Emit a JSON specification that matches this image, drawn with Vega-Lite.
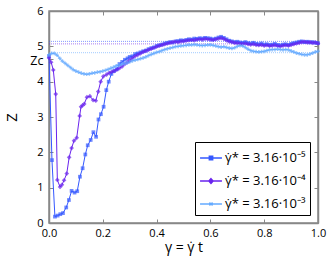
{
  "$schema": "https://vega.github.io/schema/vega-lite/v6.json",
  "autosize": "none",
  "width": 269,
  "height": 212,
  "padding": {"left": 49, "top": 11, "right": 14, "bottom": 34},
  "config": {
    "font": "Open Sans",
    "view": {"stroke": "#888888", "strokeWidth": 1.5},
    "axis": {"grid": false, "labelFont": "Open Sans", "labelFontSize": 11, "labelColor": "#000", "titleColor": "#000", "tickColor": "#888888", "domainColor": "#888888", "domainWidth": 1.5, "tickSize": -4, "tickWidth": 1, "labelFlush": false}
  },
  "datasets": {
    "series": [
      {"s": "γ̇* = 3.16·10⁻⁵", "x": 0.0, "z": 4.72},
      {"s": "γ̇* = 3.16·10⁻⁵", "x": 0.011, "z": 1.78},
      {"s": "γ̇* = 3.16·10⁻⁵", "x": 0.022, "z": 0.18},
      {"s": "γ̇* = 3.16·10⁻⁵", "x": 0.032, "z": 0.21},
      {"s": "γ̇* = 3.16·10⁻⁵", "x": 0.042, "z": 0.25},
      {"s": "γ̇* = 3.16·10⁻⁵", "x": 0.052, "z": 0.28},
      {"s": "γ̇* = 3.16·10⁻⁵", "x": 0.064, "z": 0.44},
      {"s": "γ̇* = 3.16·10⁻⁵", "x": 0.074, "z": 0.65},
      {"s": "γ̇* = 3.16·10⁻⁵", "x": 0.084, "z": 0.91},
      {"s": "γ̇* = 3.16·10⁻⁵", "x": 0.095, "z": 0.86},
      {"s": "γ̇* = 3.16·10⁻⁵", "x": 0.105, "z": 0.9},
      {"s": "γ̇* = 3.16·10⁻⁵", "x": 0.115, "z": 1.31},
      {"s": "γ̇* = 3.16·10⁻⁵", "x": 0.125, "z": 1.55},
      {"s": "γ̇* = 3.16·10⁻⁵", "x": 0.135, "z": 1.94},
      {"s": "γ̇* = 3.16·10⁻⁵", "x": 0.144, "z": 2.2},
      {"s": "γ̇* = 3.16·10⁻⁵", "x": 0.155, "z": 2.35},
      {"s": "γ̇* = 3.16·10⁻⁵", "x": 0.165, "z": 2.57},
      {"s": "γ̇* = 3.16·10⁻⁵", "x": 0.175, "z": 2.44},
      {"s": "γ̇* = 3.16·10⁻⁵", "x": 0.184, "z": 2.93},
      {"s": "γ̇* = 3.16·10⁻⁵", "x": 0.193, "z": 3.08},
      {"s": "γ̇* = 3.16·10⁻⁵", "x": 0.203, "z": 3.29},
      {"s": "γ̇* = 3.16·10⁻⁵", "x": 0.213, "z": 3.76},
      {"s": "γ̇* = 3.16·10⁻⁵", "x": 0.222, "z": 4.0},
      {"s": "γ̇* = 3.16·10⁻⁵", "x": 0.232, "z": 4.22},
      {"s": "γ̇* = 3.16·10⁻⁵", "x": 0.242, "z": 4.3},
      {"s": "γ̇* = 3.16·10⁻⁵", "x": 0.252, "z": 4.35},
      {"s": "γ̇* = 3.16·10⁻⁵", "x": 0.262, "z": 4.5},
      {"s": "γ̇* = 3.16·10⁻⁵", "x": 0.272, "z": 4.56},
      {"s": "γ̇* = 3.16·10⁻⁵", "x": 0.282, "z": 4.62},
      {"s": "γ̇* = 3.16·10⁻⁵", "x": 0.292, "z": 4.66},
      {"s": "γ̇* = 3.16·10⁻⁵", "x": 0.30, "z": 4.7},
      {"s": "γ̇* = 3.16·10⁻⁵", "x": 0.31, "z": 4.72},
      {"s": "γ̇* = 3.16·10⁻⁵", "x": 0.32, "z": 4.78},
      {"s": "γ̇* = 3.16·10⁻⁵", "x": 0.33, "z": 4.8},
      {"s": "γ̇* = 3.16·10⁻⁵", "x": 0.34, "z": 4.83},
      {"s": "γ̇* = 3.16·10⁻⁵", "x": 0.35, "z": 4.86},
      {"s": "γ̇* = 3.16·10⁻⁵", "x": 0.36, "z": 4.88},
      {"s": "γ̇* = 3.16·10⁻⁵", "x": 0.37, "z": 4.92},
      {"s": "γ̇* = 3.16·10⁻⁵", "x": 0.38, "z": 4.95},
      {"s": "γ̇* = 3.16·10⁻⁵", "x": 0.39, "z": 4.97},
      {"s": "γ̇* = 3.16·10⁻⁵", "x": 0.40, "z": 5.01},
      {"s": "γ̇* = 3.16·10⁻⁵", "x": 0.41, "z": 5.03},
      {"s": "γ̇* = 3.16·10⁻⁵", "x": 0.42, "z": 5.05},
      {"s": "γ̇* = 3.16·10⁻⁵", "x": 0.43, "z": 5.08},
      {"s": "γ̇* = 3.16·10⁻⁵", "x": 0.44, "z": 5.1},
      {"s": "γ̇* = 3.16·10⁻⁵", "x": 0.45, "z": 5.12},
      {"s": "γ̇* = 3.16·10⁻⁵", "x": 0.46, "z": 5.11},
      {"s": "γ̇* = 3.16·10⁻⁵", "x": 0.47, "z": 5.14},
      {"s": "γ̇* = 3.16·10⁻⁵", "x": 0.48, "z": 5.15},
      {"s": "γ̇* = 3.16·10⁻⁵", "x": 0.49, "z": 5.17},
      {"s": "γ̇* = 3.16·10⁻⁵", "x": 0.50, "z": 5.16},
      {"s": "γ̇* = 3.16·10⁻⁵", "x": 0.51, "z": 5.18},
      {"s": "γ̇* = 3.16·10⁻⁵", "x": 0.52, "z": 5.2},
      {"s": "γ̇* = 3.16·10⁻⁵", "x": 0.53, "z": 5.19},
      {"s": "γ̇* = 3.16·10⁻⁵", "x": 0.54, "z": 5.22},
      {"s": "γ̇* = 3.16·10⁻⁵", "x": 0.55, "z": 5.21},
      {"s": "γ̇* = 3.16·10⁻⁵", "x": 0.56, "z": 5.23},
      {"s": "γ̇* = 3.16·10⁻⁵", "x": 0.57, "z": 5.22},
      {"s": "γ̇* = 3.16·10⁻⁵", "x": 0.58, "z": 5.24},
      {"s": "γ̇* = 3.16·10⁻⁵", "x": 0.59, "z": 5.23},
      {"s": "γ̇* = 3.16·10⁻⁵", "x": 0.60, "z": 5.22},
      {"s": "γ̇* = 3.16·10⁻⁵", "x": 0.61, "z": 5.2},
      {"s": "γ̇* = 3.16·10⁻⁵", "x": 0.62, "z": 5.22},
      {"s": "γ̇* = 3.16·10⁻⁵", "x": 0.63, "z": 5.25},
      {"s": "γ̇* = 3.16·10⁻⁵", "x": 0.64, "z": 5.27},
      {"s": "γ̇* = 3.16·10⁻⁵", "x": 0.65, "z": 5.24},
      {"s": "γ̇* = 3.16·10⁻⁵", "x": 0.66, "z": 5.2},
      {"s": "γ̇* = 3.16·10⁻⁵", "x": 0.67, "z": 5.16},
      {"s": "γ̇* = 3.16·10⁻⁵", "x": 0.68, "z": 5.14},
      {"s": "γ̇* = 3.16·10⁻⁵", "x": 0.69, "z": 5.12},
      {"s": "γ̇* = 3.16·10⁻⁵", "x": 0.70, "z": 5.13},
      {"s": "γ̇* = 3.16·10⁻⁵", "x": 0.71, "z": 5.11},
      {"s": "γ̇* = 3.16·10⁻⁵", "x": 0.72, "z": 5.1},
      {"s": "γ̇* = 3.16·10⁻⁵", "x": 0.73, "z": 5.12},
      {"s": "γ̇* = 3.16·10⁻⁵", "x": 0.74, "z": 5.09},
      {"s": "γ̇* = 3.16·10⁻⁵", "x": 0.75, "z": 5.08},
      {"s": "γ̇* = 3.16·10⁻⁵", "x": 0.76, "z": 5.1},
      {"s": "γ̇* = 3.16·10⁻⁵", "x": 0.77, "z": 5.07},
      {"s": "γ̇* = 3.16·10⁻⁵", "x": 0.78, "z": 5.06},
      {"s": "γ̇* = 3.16·10⁻⁵", "x": 0.79, "z": 5.08},
      {"s": "γ̇* = 3.16·10⁻⁵", "x": 0.80, "z": 5.05},
      {"s": "γ̇* = 3.16·10⁻⁵", "x": 0.81, "z": 5.06},
      {"s": "γ̇* = 3.16·10⁻⁵", "x": 0.82, "z": 5.04},
      {"s": "γ̇* = 3.16·10⁻⁵", "x": 0.83, "z": 5.05},
      {"s": "γ̇* = 3.16·10⁻⁵", "x": 0.84, "z": 5.07},
      {"s": "γ̇* = 3.16·10⁻⁵", "x": 0.85, "z": 5.04},
      {"s": "γ̇* = 3.16·10⁻⁵", "x": 0.86, "z": 5.03},
      {"s": "γ̇* = 3.16·10⁻⁵", "x": 0.87, "z": 5.05},
      {"s": "γ̇* = 3.16·10⁻⁵", "x": 0.88, "z": 5.06},
      {"s": "γ̇* = 3.16·10⁻⁵", "x": 0.89, "z": 5.04},
      {"s": "γ̇* = 3.16·10⁻⁵", "x": 0.90, "z": 5.07},
      {"s": "γ̇* = 3.16·10⁻⁵", "x": 0.91, "z": 5.09},
      {"s": "γ̇* = 3.16·10⁻⁵", "x": 0.92, "z": 5.11},
      {"s": "γ̇* = 3.16·10⁻⁵", "x": 0.93, "z": 5.13},
      {"s": "γ̇* = 3.16·10⁻⁵", "x": 0.94, "z": 5.14},
      {"s": "γ̇* = 3.16·10⁻⁵", "x": 0.95, "z": 5.12},
      {"s": "γ̇* = 3.16·10⁻⁵", "x": 0.96, "z": 5.13},
      {"s": "γ̇* = 3.16·10⁻⁵", "x": 0.97, "z": 5.11},
      {"s": "γ̇* = 3.16·10⁻⁵", "x": 0.98, "z": 5.12},
      {"s": "γ̇* = 3.16·10⁻⁵", "x": 0.99, "z": 5.1},
      {"s": "γ̇* = 3.16·10⁻⁵", "x": 1.0, "z": 5.09},

      {"s": "γ̇* = 3.16·10⁻⁴", "x": 0.0, "z": 4.67},
      {"s": "γ̇* = 3.16·10⁻⁴", "x": 0.008, "z": 4.55},
      {"s": "γ̇* = 3.16·10⁻⁴", "x": 0.016, "z": 4.33},
      {"s": "γ̇* = 3.16·10⁻⁴", "x": 0.025, "z": 3.65},
      {"s": "γ̇* = 3.16·10⁻⁴", "x": 0.031, "z": 1.22},
      {"s": "γ̇* = 3.16·10⁻⁴", "x": 0.041, "z": 1.02},
      {"s": "γ̇* = 3.16·10⁻⁴", "x": 0.048, "z": 1.08},
      {"s": "γ̇* = 3.16·10⁻⁴", "x": 0.056, "z": 1.21},
      {"s": "γ̇* = 3.16·10⁻⁴", "x": 0.066, "z": 1.4},
      {"s": "γ̇* = 3.16·10⁻⁴", "x": 0.075, "z": 1.86},
      {"s": "γ̇* = 3.16·10⁻⁴", "x": 0.084, "z": 2.12},
      {"s": "γ̇* = 3.16·10⁻⁴", "x": 0.093, "z": 2.33},
      {"s": "γ̇* = 3.16·10⁻⁴", "x": 0.103, "z": 2.41},
      {"s": "γ̇* = 3.16·10⁻⁴", "x": 0.114, "z": 3.03},
      {"s": "γ̇* = 3.16·10⁻⁴", "x": 0.119, "z": 3.29},
      {"s": "γ̇* = 3.16·10⁻⁴", "x": 0.125, "z": 3.33},
      {"s": "γ̇* = 3.16·10⁻⁴", "x": 0.131, "z": 3.37},
      {"s": "γ̇* = 3.16·10⁻⁴", "x": 0.141, "z": 3.56},
      {"s": "γ̇* = 3.16·10⁻⁴", "x": 0.152, "z": 3.59},
      {"s": "γ̇* = 3.16·10⁻⁴", "x": 0.164, "z": 3.48},
      {"s": "γ̇* = 3.16·10⁻⁴", "x": 0.174, "z": 3.46},
      {"s": "γ̇* = 3.16·10⁻⁴", "x": 0.183, "z": 3.72},
      {"s": "γ̇* = 3.16·10⁻⁴", "x": 0.192, "z": 4.0},
      {"s": "γ̇* = 3.16·10⁻⁴", "x": 0.202, "z": 4.15},
      {"s": "γ̇* = 3.16·10⁻⁴", "x": 0.214, "z": 4.2},
      {"s": "γ̇* = 3.16·10⁻⁴", "x": 0.224, "z": 4.25},
      {"s": "γ̇* = 3.16·10⁻⁴", "x": 0.233, "z": 4.28},
      {"s": "γ̇* = 3.16·10⁻⁴", "x": 0.242, "z": 4.3},
      {"s": "γ̇* = 3.16·10⁻⁴", "x": 0.252, "z": 4.34},
      {"s": "γ̇* = 3.16·10⁻⁴", "x": 0.262, "z": 4.38},
      {"s": "γ̇* = 3.16·10⁻⁴", "x": 0.272, "z": 4.43},
      {"s": "γ̇* = 3.16·10⁻⁴", "x": 0.282, "z": 4.5},
      {"s": "γ̇* = 3.16·10⁻⁴", "x": 0.292, "z": 4.55},
      {"s": "γ̇* = 3.16·10⁻⁴", "x": 0.30, "z": 4.6},
      {"s": "γ̇* = 3.16·10⁻⁴", "x": 0.31, "z": 4.66},
      {"s": "γ̇* = 3.16·10⁻⁴", "x": 0.32, "z": 4.72},
      {"s": "γ̇* = 3.16·10⁻⁴", "x": 0.33, "z": 4.76},
      {"s": "γ̇* = 3.16·10⁻⁴", "x": 0.34, "z": 4.8},
      {"s": "γ̇* = 3.16·10⁻⁴", "x": 0.35, "z": 4.84},
      {"s": "γ̇* = 3.16·10⁻⁴", "x": 0.36, "z": 4.87},
      {"s": "γ̇* = 3.16·10⁻⁴", "x": 0.37, "z": 4.9},
      {"s": "γ̇* = 3.16·10⁻⁴", "x": 0.38, "z": 4.93},
      {"s": "γ̇* = 3.16·10⁻⁴", "x": 0.39, "z": 4.96},
      {"s": "γ̇* = 3.16·10⁻⁴", "x": 0.40, "z": 4.99},
      {"s": "γ̇* = 3.16·10⁻⁴", "x": 0.41, "z": 5.02},
      {"s": "γ̇* = 3.16·10⁻⁴", "x": 0.42, "z": 5.04},
      {"s": "γ̇* = 3.16·10⁻⁴", "x": 0.43, "z": 5.06},
      {"s": "γ̇* = 3.16·10⁻⁴", "x": 0.44, "z": 5.08},
      {"s": "γ̇* = 3.16·10⁻⁴", "x": 0.45, "z": 5.1},
      {"s": "γ̇* = 3.16·10⁻⁴", "x": 0.46, "z": 5.12},
      {"s": "γ̇* = 3.16·10⁻⁴", "x": 0.47, "z": 5.13},
      {"s": "γ̇* = 3.16·10⁻⁴", "x": 0.48, "z": 5.12},
      {"s": "γ̇* = 3.16·10⁻⁴", "x": 0.49, "z": 5.14},
      {"s": "γ̇* = 3.16·10⁻⁴", "x": 0.50, "z": 5.15},
      {"s": "γ̇* = 3.16·10⁻⁴", "x": 0.51, "z": 5.16},
      {"s": "γ̇* = 3.16·10⁻⁴", "x": 0.52, "z": 5.17},
      {"s": "γ̇* = 3.16·10⁻⁴", "x": 0.53, "z": 5.18},
      {"s": "γ̇* = 3.16·10⁻⁴", "x": 0.54, "z": 5.17},
      {"s": "γ̇* = 3.16·10⁻⁴", "x": 0.55, "z": 5.19},
      {"s": "γ̇* = 3.16·10⁻⁴", "x": 0.56, "z": 5.2},
      {"s": "γ̇* = 3.16·10⁻⁴", "x": 0.57, "z": 5.19},
      {"s": "γ̇* = 3.16·10⁻⁴", "x": 0.58, "z": 5.21},
      {"s": "γ̇* = 3.16·10⁻⁴", "x": 0.59, "z": 5.2},
      {"s": "γ̇* = 3.16·10⁻⁴", "x": 0.60, "z": 5.19},
      {"s": "γ̇* = 3.16·10⁻⁴", "x": 0.61, "z": 5.18},
      {"s": "γ̇* = 3.16·10⁻⁴", "x": 0.62, "z": 5.2},
      {"s": "γ̇* = 3.16·10⁻⁴", "x": 0.63, "z": 5.22},
      {"s": "γ̇* = 3.16·10⁻⁴", "x": 0.64, "z": 5.23},
      {"s": "γ̇* = 3.16·10⁻⁴", "x": 0.65, "z": 5.21},
      {"s": "γ̇* = 3.16·10⁻⁴", "x": 0.66, "z": 5.17},
      {"s": "γ̇* = 3.16·10⁻⁴", "x": 0.67, "z": 5.14},
      {"s": "γ̇* = 3.16·10⁻⁴", "x": 0.68, "z": 5.12},
      {"s": "γ̇* = 3.16·10⁻⁴", "x": 0.69, "z": 5.1},
      {"s": "γ̇* = 3.16·10⁻⁴", "x": 0.70, "z": 5.09},
      {"s": "γ̇* = 3.16·10⁻⁴", "x": 0.71, "z": 5.08},
      {"s": "γ̇* = 3.16·10⁻⁴", "x": 0.72, "z": 5.07},
      {"s": "γ̇* = 3.16·10⁻⁴", "x": 0.73, "z": 5.08},
      {"s": "γ̇* = 3.16·10⁻⁴", "x": 0.74, "z": 5.06},
      {"s": "γ̇* = 3.16·10⁻⁴", "x": 0.75, "z": 5.05},
      {"s": "γ̇* = 3.16·10⁻⁴", "x": 0.76, "z": 5.06},
      {"s": "γ̇* = 3.16·10⁻⁴", "x": 0.77, "z": 5.04},
      {"s": "γ̇* = 3.16·10⁻⁴", "x": 0.78, "z": 5.03},
      {"s": "γ̇* = 3.16·10⁻⁴", "x": 0.79, "z": 5.04},
      {"s": "γ̇* = 3.16·10⁻⁴", "x": 0.80, "z": 5.02},
      {"s": "γ̇* = 3.16·10⁻⁴", "x": 0.81, "z": 5.03},
      {"s": "γ̇* = 3.16·10⁻⁴", "x": 0.82, "z": 5.01},
      {"s": "γ̇* = 3.16·10⁻⁴", "x": 0.83, "z": 5.02},
      {"s": "γ̇* = 3.16·10⁻⁴", "x": 0.84, "z": 5.03},
      {"s": "γ̇* = 3.16·10⁻⁴", "x": 0.85, "z": 5.01},
      {"s": "γ̇* = 3.16·10⁻⁴", "x": 0.86, "z": 5.0},
      {"s": "γ̇* = 3.16·10⁻⁴", "x": 0.87, "z": 5.02},
      {"s": "γ̇* = 3.16·10⁻⁴", "x": 0.88, "z": 5.03},
      {"s": "γ̇* = 3.16·10⁻⁴", "x": 0.89, "z": 5.02},
      {"s": "γ̇* = 3.16·10⁻⁴", "x": 0.90, "z": 5.04},
      {"s": "γ̇* = 3.16·10⁻⁴", "x": 0.91, "z": 5.06},
      {"s": "γ̇* = 3.16·10⁻⁴", "x": 0.92, "z": 5.08},
      {"s": "γ̇* = 3.16·10⁻⁴", "x": 0.93, "z": 5.1},
      {"s": "γ̇* = 3.16·10⁻⁴", "x": 0.94, "z": 5.12},
      {"s": "γ̇* = 3.16·10⁻⁴", "x": 0.95, "z": 5.13},
      {"s": "γ̇* = 3.16·10⁻⁴", "x": 0.96, "z": 5.11},
      {"s": "γ̇* = 3.16·10⁻⁴", "x": 0.97, "z": 5.12},
      {"s": "γ̇* = 3.16·10⁻⁴", "x": 0.98, "z": 5.1},
      {"s": "γ̇* = 3.16·10⁻⁴", "x": 0.99, "z": 5.11},
      {"s": "γ̇* = 3.16·10⁻⁴", "x": 1.0, "z": 5.08},

      {"s": "γ̇* = 3.16·10⁻³", "x": 0.0, "z": 4.76},
      {"s": "γ̇* = 3.16·10⁻³", "x": 0.01, "z": 4.8},
      {"s": "γ̇* = 3.16·10⁻³", "x": 0.02, "z": 4.8},
      {"s": "γ̇* = 3.16·10⁻³", "x": 0.03, "z": 4.75},
      {"s": "γ̇* = 3.16·10⁻³", "x": 0.04, "z": 4.66},
      {"s": "γ̇* = 3.16·10⁻³", "x": 0.05, "z": 4.58},
      {"s": "γ̇* = 3.16·10⁻³", "x": 0.06, "z": 4.52},
      {"s": "γ̇* = 3.16·10⁻³", "x": 0.07, "z": 4.46},
      {"s": "γ̇* = 3.16·10⁻³", "x": 0.08, "z": 4.4},
      {"s": "γ̇* = 3.16·10⁻³", "x": 0.09, "z": 4.34},
      {"s": "γ̇* = 3.16·10⁻³", "x": 0.10, "z": 4.3},
      {"s": "γ̇* = 3.16·10⁻³", "x": 0.11, "z": 4.27},
      {"s": "γ̇* = 3.16·10⁻³", "x": 0.12, "z": 4.24},
      {"s": "γ̇* = 3.16·10⁻³", "x": 0.13, "z": 4.22},
      {"s": "γ̇* = 3.16·10⁻³", "x": 0.14, "z": 4.21},
      {"s": "γ̇* = 3.16·10⁻³", "x": 0.15, "z": 4.22},
      {"s": "γ̇* = 3.16·10⁻³", "x": 0.16, "z": 4.24},
      {"s": "γ̇* = 3.16·10⁻³", "x": 0.17, "z": 4.25},
      {"s": "γ̇* = 3.16·10⁻³", "x": 0.18, "z": 4.27},
      {"s": "γ̇* = 3.16·10⁻³", "x": 0.19, "z": 4.28},
      {"s": "γ̇* = 3.16·10⁻³", "x": 0.20, "z": 4.3},
      {"s": "γ̇* = 3.16·10⁻³", "x": 0.21, "z": 4.32},
      {"s": "γ̇* = 3.16·10⁻³", "x": 0.22, "z": 4.35},
      {"s": "γ̇* = 3.16·10⁻³", "x": 0.23, "z": 4.38},
      {"s": "γ̇* = 3.16·10⁻³", "x": 0.24, "z": 4.41},
      {"s": "γ̇* = 3.16·10⁻³", "x": 0.25, "z": 4.45},
      {"s": "γ̇* = 3.16·10⁻³", "x": 0.26, "z": 4.47},
      {"s": "γ̇* = 3.16·10⁻³", "x": 0.27, "z": 4.49},
      {"s": "γ̇* = 3.16·10⁻³", "x": 0.28, "z": 4.51},
      {"s": "γ̇* = 3.16·10⁻³", "x": 0.29, "z": 4.53},
      {"s": "γ̇* = 3.16·10⁻³", "x": 0.30, "z": 4.56},
      {"s": "γ̇* = 3.16·10⁻³", "x": 0.31, "z": 4.59},
      {"s": "γ̇* = 3.16·10⁻³", "x": 0.32, "z": 4.61},
      {"s": "γ̇* = 3.16·10⁻³", "x": 0.33, "z": 4.63},
      {"s": "γ̇* = 3.16·10⁻³", "x": 0.34, "z": 4.65},
      {"s": "γ̇* = 3.16·10⁻³", "x": 0.35, "z": 4.67},
      {"s": "γ̇* = 3.16·10⁻³", "x": 0.36, "z": 4.7},
      {"s": "γ̇* = 3.16·10⁻³", "x": 0.37, "z": 4.74},
      {"s": "γ̇* = 3.16·10⁻³", "x": 0.38, "z": 4.77},
      {"s": "γ̇* = 3.16·10⁻³", "x": 0.39, "z": 4.8},
      {"s": "γ̇* = 3.16·10⁻³", "x": 0.40, "z": 4.83},
      {"s": "γ̇* = 3.16·10⁻³", "x": 0.41, "z": 4.85},
      {"s": "γ̇* = 3.16·10⁻³", "x": 0.42, "z": 4.88},
      {"s": "γ̇* = 3.16·10⁻³", "x": 0.43, "z": 4.91},
      {"s": "γ̇* = 3.16·10⁻³", "x": 0.44, "z": 4.93},
      {"s": "γ̇* = 3.16·10⁻³", "x": 0.45, "z": 4.95},
      {"s": "γ̇* = 3.16·10⁻³", "x": 0.46, "z": 4.97},
      {"s": "γ̇* = 3.16·10⁻³", "x": 0.47, "z": 4.99},
      {"s": "γ̇* = 3.16·10⁻³", "x": 0.48, "z": 5.0},
      {"s": "γ̇* = 3.16·10⁻³", "x": 0.49, "z": 5.01},
      {"s": "γ̇* = 3.16·10⁻³", "x": 0.50, "z": 5.02},
      {"s": "γ̇* = 3.16·10⁻³", "x": 0.51, "z": 5.03},
      {"s": "γ̇* = 3.16·10⁻³", "x": 0.52, "z": 5.04},
      {"s": "γ̇* = 3.16·10⁻³", "x": 0.53, "z": 5.04},
      {"s": "γ̇* = 3.16·10⁻³", "x": 0.54, "z": 5.05},
      {"s": "γ̇* = 3.16·10⁻³", "x": 0.55, "z": 5.04},
      {"s": "γ̇* = 3.16·10⁻³", "x": 0.56, "z": 5.03},
      {"s": "γ̇* = 3.16·10⁻³", "x": 0.57, "z": 5.02},
      {"s": "γ̇* = 3.16·10⁻³", "x": 0.58, "z": 5.03},
      {"s": "γ̇* = 3.16·10⁻³", "x": 0.59, "z": 5.04},
      {"s": "γ̇* = 3.16·10⁻³", "x": 0.60, "z": 5.04},
      {"s": "γ̇* = 3.16·10⁻³", "x": 0.61, "z": 5.03},
      {"s": "γ̇* = 3.16·10⁻³", "x": 0.62, "z": 5.01},
      {"s": "γ̇* = 3.16·10⁻³", "x": 0.63, "z": 4.99},
      {"s": "γ̇* = 3.16·10⁻³", "x": 0.64, "z": 4.98},
      {"s": "γ̇* = 3.16·10⁻³", "x": 0.65, "z": 4.99},
      {"s": "γ̇* = 3.16·10⁻³", "x": 0.66, "z": 4.97},
      {"s": "γ̇* = 3.16·10⁻³", "x": 0.67, "z": 4.95},
      {"s": "γ̇* = 3.16·10⁻³", "x": 0.68, "z": 4.94},
      {"s": "γ̇* = 3.16·10⁻³", "x": 0.69, "z": 4.96},
      {"s": "γ̇* = 3.16·10⁻³", "x": 0.70, "z": 5.0},
      {"s": "γ̇* = 3.16·10⁻³", "x": 0.71, "z": 5.02},
      {"s": "γ̇* = 3.16·10⁻³", "x": 0.72, "z": 5.01},
      {"s": "γ̇* = 3.16·10⁻³", "x": 0.73, "z": 4.97},
      {"s": "γ̇* = 3.16·10⁻³", "x": 0.74, "z": 4.92},
      {"s": "γ̇* = 3.16·10⁻³", "x": 0.75, "z": 4.88},
      {"s": "γ̇* = 3.16·10⁻³", "x": 0.76, "z": 4.86},
      {"s": "γ̇* = 3.16·10⁻³", "x": 0.77, "z": 4.85},
      {"s": "γ̇* = 3.16·10⁻³", "x": 0.78, "z": 4.84},
      {"s": "γ̇* = 3.16·10⁻³", "x": 0.79, "z": 4.85},
      {"s": "γ̇* = 3.16·10⁻³", "x": 0.80, "z": 4.86},
      {"s": "γ̇* = 3.16·10⁻³", "x": 0.81, "z": 4.88},
      {"s": "γ̇* = 3.16·10⁻³", "x": 0.82, "z": 4.9},
      {"s": "γ̇* = 3.16·10⁻³", "x": 0.83, "z": 4.91},
      {"s": "γ̇* = 3.16·10⁻³", "x": 0.84, "z": 4.91},
      {"s": "γ̇* = 3.16·10⁻³", "x": 0.85, "z": 4.92},
      {"s": "γ̇* = 3.16·10⁻³", "x": 0.86, "z": 4.91},
      {"s": "γ̇* = 3.16·10⁻³", "x": 0.87, "z": 4.9},
      {"s": "γ̇* = 3.16·10⁻³", "x": 0.88, "z": 4.91},
      {"s": "γ̇* = 3.16·10⁻³", "x": 0.89, "z": 4.9},
      {"s": "γ̇* = 3.16·10⁻³", "x": 0.90, "z": 4.87},
      {"s": "γ̇* = 3.16·10⁻³", "x": 0.91, "z": 4.84},
      {"s": "γ̇* = 3.16·10⁻³", "x": 0.92, "z": 4.81},
      {"s": "γ̇* = 3.16·10⁻³", "x": 0.93, "z": 4.79},
      {"s": "γ̇* = 3.16·10⁻³", "x": 0.94, "z": 4.77},
      {"s": "γ̇* = 3.16·10⁻³", "x": 0.95, "z": 4.76},
      {"s": "γ̇* = 3.16·10⁻³", "x": 0.96, "z": 4.76},
      {"s": "γ̇* = 3.16·10⁻³", "x": 0.97, "z": 4.78},
      {"s": "γ̇* = 3.16·10⁻³", "x": 0.98, "z": 4.81},
      {"s": "γ̇* = 3.16·10⁻³", "x": 0.99, "z": 4.84},
      {"s": "γ̇* = 3.16·10⁻³", "x": 1.0, "z": 4.86}
    ],
    "means": [
      {"s": "γ̇* = 3.16·10⁻⁵", "z": 5.14},
      {"s": "γ̇* = 3.16·10⁻⁴", "z": 5.07},
      {"s": "γ̇* = 3.16·10⁻³", "z": 4.82}
    ]
  },
  "layer": [
    {
      "data": {"name": "means"},
      "mark": {"type": "rule", "strokeDash": [1, 1], "strokeWidth": 1, "opacity": 0.6},
      "encoding": {
        "y": {"field": "z", "type": "quantitative", "scale": {"domain": [0, 6], "nice": false, "zero": false}, "axis": null},
        "color": {"field": "s", "type": "nominal"}
      }
    },
    {
      "mark": {"type": "rule", "color": "black", "strokeDash": [3, 2], "strokeWidth": 1},
      "encoding": {"y": {"datum": 4.65, "type": "quantitative", "axis": null}}
    },
    {
      "data": {"name": "series"},
      "mark": {"type": "line", "strokeWidth": 1},
      "encoding": {
        "x": {"field": "x", "type": "quantitative", "scale": {"domain": [0, 1], "nice": false, "zero": false, "padding": 0},
          "axis": {"orient": "bottom", "values": [0, 0.2, 0.4, 0.6, 0.8, 1.0], "format": ".1f", "labelPadding": 8, "labelFlush": false, "title": "γ = γ̇ t", "titleFontSize": 14, "titleFontWeight": "normal", "titlePadding": 2}},
        "y": {"field": "z", "type": "quantitative",
          "axis": {"orient": "left", "values": [0, 1, 2, 3, 4, 4.65, 5, 6], "labelExpr": "datum.value == 4.65 ? 'Zc' : format(datum.value, 'd')", "labelOverlap": false, "labelFlush": false, "labelPadding": 10, "labelFontSize": {"condition": {"test": "datum.value == 4.65", "value": 12.5}, "value": 11}, "labelOffset": {"condition": {"test": "datum.value == 4.65", "value": 2}, "value": 0}, "title": "Z", "titleFontSize": 15, "titleFontWeight": "normal", "titlePadding": 10}},
        "color": {"field": "s", "type": "nominal",
          "scale": {"domain": ["γ̇* = 3.16·10⁻⁵", "γ̇* = 3.16·10⁻⁴", "γ̇* = 3.16·10⁻³"], "range": ["#3558ff", "#6a24ee", "#64aaff"]},
          "legend": {"title": null, "orient": "bottom-right", "offset": 8, "strokeColor": "black", "fillColor": "white", "padding": 4, "labelFontSize": 13, "labelFont": "Open Sans", "labelColor": "#000", "rowPadding": 4, "symbolSize": 480, "symbolStrokeWidth": 1.3, "labelOffset": 2,
            "symbolType": "M-1,0H1M-0.16,-0.16H0.16V0.16H-0.16Z",
            "encode": {"symbols": {"update": {
              "shape": {"signal": "['M-1,0H1M-0.16,-0.16H0.16V0.16H-0.16Z','M-1,0H1M0,-0.22L0.2,0L0,0.22L-0.2,0Z','M-1,0H1M-0.14,-0.14L0.14,0.14M-0.14,0.14L0.14,-0.14'][datum.index]"},
              "fill": {"scale": "color", "field": "value"},
              "stroke": {"scale": "color", "field": "value"},
              "strokeWidth": {"value": 1.3}}}}}}
      }
    },
    {
      "data": {"name": "series"},
      "transform": [{"filter": "datum.s == 'γ̇* = 3.16·10⁻⁵'"}],
      "mark": {"type": "point", "filled": true, "size": 14, "shape": "square"},
      "encoding": {
        "x": {"field": "x", "type": "quantitative", "axis": {"orient": "top", "values": [0, 0.2, 0.4, 0.6, 0.8, 1.0], "labels": false, "title": null}},
        "y": {"field": "z", "type": "quantitative", "axis": {"orient": "right", "values": [0, 1, 2, 3, 4, 5, 6], "labels": false, "title": null}},
        "color": {"field": "s", "type": "nominal"}
      }
    },
    {
      "data": {"name": "series"},
      "transform": [{"filter": "datum.s == 'γ̇* = 3.16·10⁻⁴'"}],
      "mark": {"type": "point", "filled": true, "size": 22, "shape": "diamond"},
      "encoding": {
        "x": {"field": "x", "type": "quantitative", "axis": null},
        "y": {"field": "z", "type": "quantitative", "axis": null},
        "color": {"field": "s", "type": "nominal"}
      }
    },
    {
      "data": {"name": "series"},
      "transform": [{"filter": "datum.s == 'γ̇* = 3.16·10⁻³'"}],
      "mark": {"type": "point", "filled": true, "size": 14, "shape": "cross"},
      "encoding": {
        "x": {"field": "x", "type": "quantitative", "axis": null},
        "y": {"field": "z", "type": "quantitative", "axis": null},
        "color": {"field": "s", "type": "nominal"}
      }
    }
  ],
  "resolve": {"axis": {"x": "independent", "y": "independent"}}
}
